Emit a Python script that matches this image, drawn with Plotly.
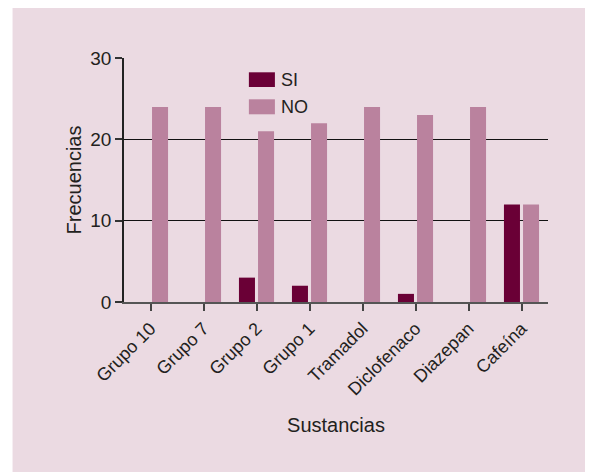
import plotly.graph_objects as go

categories = ["Grupo 10", "Grupo 7", "Grupo 2", "Grupo 1", "Tramadol", "Diclofenaco", "Diazepan", "Cafeína"]
si_values = [0, 0, 3, 2, 0, 1, 0, 12]
no_values = [24, 24, 21, 22, 24, 23, 24, 12]
y_ticks = [0, 10, 20, 30]

SI_COLOR = "#6A0036"
NO_COLOR = "#BA829E"
BG = "#EBDAE2"
TXT = "#231F20"
FONT = "Liberation Sans, Arial, sans-serif"

fig = go.Figure()
fig.add_trace(go.Bar(name="SI", x=categories, y=si_values, marker=dict(color=SI_COLOR, line=dict(width=0))))
fig.add_trace(go.Bar(name="NO", x=categories, y=no_values, marker=dict(color=NO_COLOR, line=dict(width=0))))

OFF = 8  # page body margin
W, H = 593 - OFF, 472 - OFF
# plot area in page pixels
PL, PR, PT, PB = 124.3, 547.7, 57.7, 301.7
L, T = PL - OFF, PT - OFF
R = W - (PR - OFF)
B = H - (PB - OFF)
pw, ph = W - L - R, H - T - B

def fx(px):
    return (px - OFF - L) / pw

def fy(py):
    return 1 - (py - OFF - T) / ph

shapes = [
    # extra white strip on the left (body margin gives the first 8 px)
    dict(type="rect", xref="paper", yref="paper", x0=fx(0), x1=fx(13), y0=fy(480), y1=fy(0),
         fillcolor="white", line=dict(width=0), layer="below"),
    # legend swatches
    dict(type="rect", xref="paper", yref="paper", x0=fx(249), x1=fx(275), y0=fy(86.7), y1=fy(72),
         fillcolor=SI_COLOR, line=dict(width=0)),
    dict(type="rect", xref="paper", yref="paper", x0=fx(249), x1=fx(275), y0=fy(114), y1=fy(99),
         fillcolor=NO_COLOR, line=dict(width=0)),
]
annotations = [
    dict(text="SI", xref="paper", yref="paper", x=fx(279), y=fy(79.5), xanchor="left", yanchor="middle",
         showarrow=False, font=dict(size=18, color=TXT, family=FONT)),
    dict(text="NO", xref="paper", yref="paper", x=fx(279), y=fy(106.5), xanchor="left", yanchor="middle",
         showarrow=False, font=dict(size=18, color=TXT, family=FONT)),
]

fig.update_layout(
    width=W, height=H,
    margin=dict(l=L, r=R, t=T, b=B, pad=0),
    paper_bgcolor=BG, plot_bgcolor=BG,
    barmode="group", bargap=0.28, bargroupgap=0.16,
    showlegend=False,
    font=dict(family=FONT, size=18, color=TXT),
    shapes=shapes, annotations=annotations,
    xaxis=dict(
        title=dict(text="Sustancias", font=dict(size=20, color=TXT), standoff=20),
        tickangle=-45, ticks="outside", ticklen=7, tickwidth=2, tickcolor="#444",
        showline=True, linecolor="#555", linewidth=2, showgrid=False,
        tickfont=dict(size=18, color=TXT),
    ),
    yaxis=dict(
        title=dict(text="Frecuencias", font=dict(size=20, color=TXT), standoff=3),
        range=[0, 30.02], tickvals=y_ticks, ticks="outside", ticklen=7, tickwidth=1.5, tickcolor="#333",
        showline=True, linecolor="#222", linewidth=1.5, showgrid=True, gridcolor="#111", gridwidth=1,
        zeroline=False, tickfont=dict(size=19, color=TXT),
    ),
)

fig.write_html("out.html")
